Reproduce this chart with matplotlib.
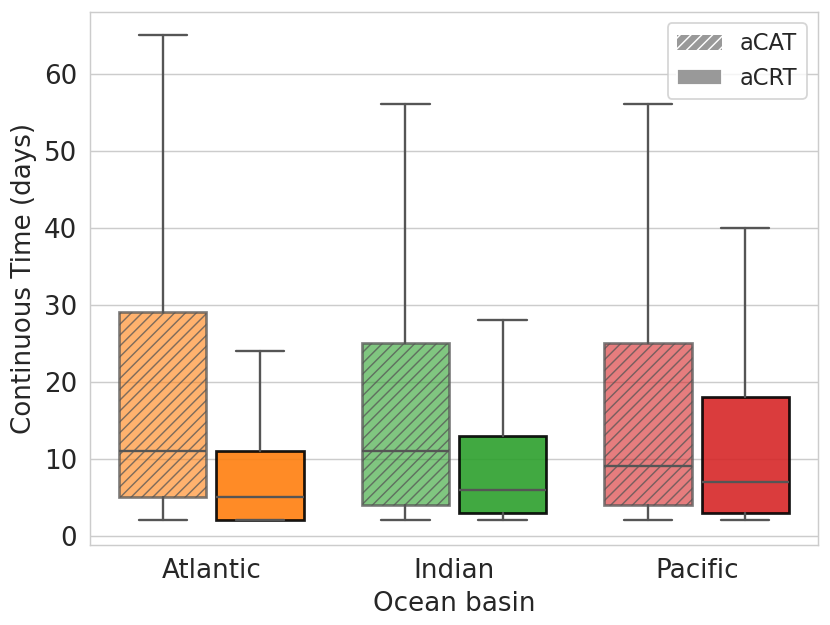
import numpy as np
import matplotlib.pyplot as plt
import seaborn as sns
from matplotlib.colors import to_rgba
from matplotlib.patches import Patch

sns.set_style("whitegrid")
plt.rcParams['font.family'] = ['DejaVu Sans']
plt.rcParams['hatch.linewidth'] = 0.8

basins = ['Atlantic', 'Indian', 'Pacific']
colors = ['tab:orange', 'tab:green', 'tab:red']

# whislo, q1, median, q3, whishi (days)
acat_stats = [[2, 5, 11, 29, 65],
              [2, 4, 11, 25, 56],
              [2, 4, 9, 25, 56]]
acrt_stats = [[2, 2, 5, 11, 24],
              [2, 3, 6, 13, 28],
              [2, 3, 7, 18, 40]]


def to_bxp(row):
    lo, q1, med, q3, hi = row
    return dict(whislo=lo, q1=q1, med=med, q3=q3, whishi=hi, fliers=[])


fig, ax = plt.subplots(figsize=(830 / 130, 625 / 130), dpi=130)

x = np.arange(len(basins))
line_col = '#555555'
lw = 1.3
fs = 14.5

for i, c in enumerate(colors):
    # aCAT: lighter, hatched
    ax.bxp([to_bxp(acat_stats[i])], positions=[x[i] - 0.2], widths=0.36,
           patch_artist=True, showfliers=False,
           boxprops=dict(facecolor=to_rgba(c, 0.6), edgecolor=to_rgba(line_col, 0.75),
                         linewidth=lw + 0.2, hatch='////'),
           medianprops=dict(color=line_col, linewidth=lw),
           whiskerprops=dict(color=line_col, linewidth=lw),
           capprops=dict(color=line_col, linewidth=lw),
           capwidths=0.2)
    # aCRT: solid
    ax.bxp([to_bxp(acrt_stats[i])], positions=[x[i] + 0.2], widths=0.36,
           patch_artist=True, showfliers=False,
           boxprops=dict(facecolor=c, alpha=0.9, edgecolor='black', linewidth=lw + 0.2),
           medianprops=dict(color=line_col, linewidth=lw),
           whiskerprops=dict(color=line_col, linewidth=lw),
           capprops=dict(color=line_col, linewidth=lw),
           capwidths=0.2)

ax.set_xticks(x)
ax.set_xticklabels(basins, fontsize=fs)
ax.tick_params(axis='y', labelsize=fs)
ax.set_xlim(-0.5, 2.5)
ax.set_ylim(-1.2, 68)
ax.set_yticks(np.arange(0, 61, 10))
ax.xaxis.grid(False)
ax.set_xlabel('Ocean basin', fontsize=fs)
ax.set_ylabel('Continuous Time (days)', fontsize=fs)

handles = [Patch(facecolor='#999999', edgecolor='white', hatch='////', linewidth=0, label='aCAT'),
           Patch(facecolor='#999999', label='aCRT')]
ax.legend(handles=handles, loc='upper right', fontsize=12.5)

fig.subplots_adjust(left=90 / 830, right=818 / 830, top=1 - 12 / 625, bottom=1 - 545 / 625)
plt.savefig('out.png', dpi=130)
